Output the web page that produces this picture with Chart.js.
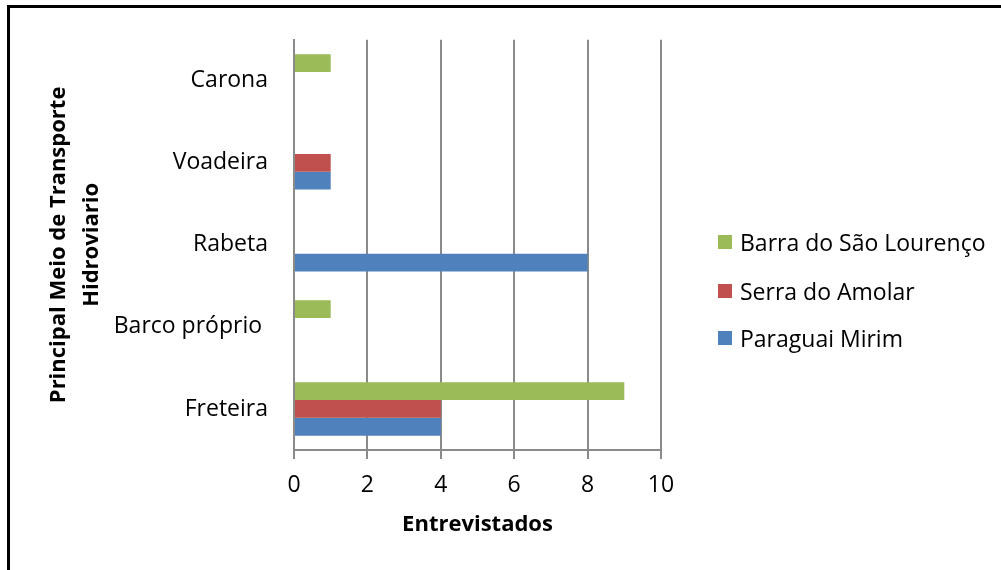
<!DOCTYPE html>
<html>
<head>
<meta charset="utf-8">
<script src="https://cdn.jsdelivr.net/npm/chart.js@4/dist/chart.umd.min.js"></script>
<style>
    html, body { margin: 0; padding: 0; background: #fff; }
    #wrap { position: relative; width: 1001px; height: 570px; overflow: hidden; }
    #frame {
        position: absolute; left: 7px; top: 5px; width: 1100px; height: 700px;
        border-left: 3px solid #000; border-top: 3px solid #000;
    }
    #chart { position: absolute; left: 0; top: 0; }
    #legend { position: absolute; left: 718px; top: 0; font-family: "Open Sans", sans-serif; font-size: 23px; color: #000; }
    .legend-item { position: absolute; left: 0; white-space: nowrap; height: 30px; line-height: 30px; }
    .legend-box { position: absolute; left: 0; top: 8px; width: 14px; height: 14px; }
    .legend-text { position: absolute; left: 22px; top: 0; }
</style>
</head>
<body>
<div id="wrap">
    <div id="frame"></div>
    <canvas id="chart" width="1001" height="570"></canvas>
    <div id="legend"></div>
</div>
<script>
// Categories, top to bottom
const categories = ['Carona', 'Voadeira', 'Rabeta', 'Barco próprio ', 'Freteira'];

// Number of interviewees per location
const barraSaoLourenco = [1, 0, 0, 1, 9];
const serraAmolar = [0, 1, 0, 0, 4];
const paraguaiMirim = [0, 1, 8, 0, 4];

const seriesNames = ['Barra do São Lourenço', 'Serra do Amolar', 'Paraguai Mirim'];
const seriesColors = ['#9BBB59', '#C0504D', '#4F81BD'];

const xTicks = [0, 2, 4, 6, 8, 10];

const gridColor = '#8a8a8a';
const font = 'Open Sans';

const datasets = [barraSaoLourenco, serraAmolar, paraguaiMirim].map((values, i) => ({
    label: seriesNames[i],
    data: values,
    backgroundColor: seriesColors[i],
    borderWidth: 0,
    categoryPercentage: 0.65,
    barPercentage: 1.0
}));

const ctx = document.getElementById('chart').getContext('2d');
const chart = new Chart(ctx, {
    type: 'bar',
    data: { labels: categories, datasets: datasets },
    options: {
        indexAxis: 'y',
        responsive: false,
        animation: false,
        layout: { padding: { top: 35, right: 340, left: 0, bottom: 0 } },
        plugins: {
            legend: { display: false },
            tooltip: { enabled: false }
        },
        scales: {
            x: {
                min: 0,
                max: 10,
                afterFit: function(scale) { scale.height = 120; },
                afterBuildTicks: function(scale) {
                    scale.ticks = xTicks.map(v => ({ value: v }));
                },
                grid: {
                    color: gridColor,
                    lineWidth: 2,
                    drawTicks: true,
                    tickLength: 9,
                    tickColor: gridColor
                },
                border: { display: true, color: gridColor, width: 2 },
                ticks: {
                    padding: 13,
                    color: '#000',
                    font: { family: font, size: 23 }
                },
                title: {
                    display: true,
                    text: 'Entrevistados',
                    color: '#000',
                    font: { family: font, size: 22, weight: 'bold' },
                    padding: { top: 0, bottom: 32 }
                }
            },
            y: {
                afterFit: function(scale) { scale.width = 294; },
                grid: { display: false, drawTicks: false },
                border: { display: true, color: gridColor, width: 2 },
                ticks: {
                    padding: 26,
                    color: '#000',
                    font: { family: font, size: 23 }
                },
                title: {
                    display: true,
                    text: ['Principal Meio de Transporte', 'Hidroviario'],
                    color: '#000',
                    font: { family: font, size: 22, weight: 'bold', lineHeight: '33px' },
                    padding: { top: 42, bottom: 0 }
                }
            }
        }
    }
});

// Legend built from the series names and colours
const legend = document.getElementById('legend');
const legendCenters = [242, 291, 338];
seriesNames.forEach((name, i) => {
    const item = document.createElement('div');
    item.className = 'legend-item';
    item.style.top = (legendCenters[i] - 15) + 'px';
    const box = document.createElement('div');
    box.className = 'legend-box';
    box.style.background = seriesColors[i];
    const text = document.createElement('span');
    text.className = 'legend-text';
    text.textContent = name;
    item.appendChild(box);
    item.appendChild(text);
    legend.appendChild(item);
});
</script>
</body>
</html>
